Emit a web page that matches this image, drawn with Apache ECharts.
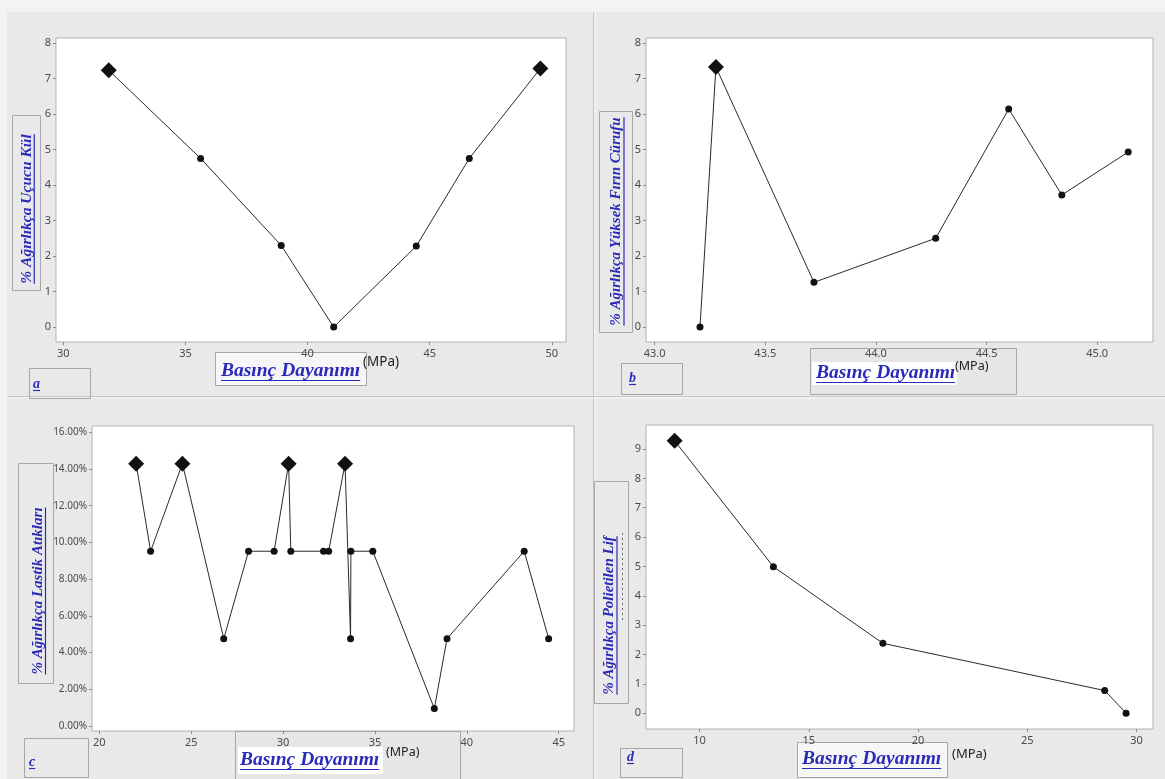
<!DOCTYPE html>
<html>
<head>
<meta charset="utf-8">
<script src="https://cdn.jsdelivr.net/npm/echarts@6/dist/echarts.min.js"></script>
<style>
  html, body { margin: 0; padding: 0; background: #e9e9e9; }
  #chart { width: 1165px; height: 779px; }
</style>
</head>
<body>
<div id="chart"></div>
<script>
// (a) Fly ash content vs compressive strength
const flyAshStrength = [31.86, 35.62, 38.92, 41.07, 44.45, 46.62, 49.53];
const flyAshPct      = [7.23, 4.75, 2.30, 0.00, 2.28, 4.75, 7.28];
const flyAshXTicks   = [30, 35, 40, 45, 50];
const flyAshYTicks   = [0, 1, 2, 3, 4, 5, 6, 7, 8];

// (b) Blast furnace slag content vs compressive strength
const slagStrength = [43.205, 43.277, 43.72, 44.27, 44.60, 44.84, 45.14];
const slagPct      = [0.00, 7.32, 1.26, 2.50, 6.14, 3.72, 4.93];
const slagXTicks   = [43.0, 43.5, 44.0, 44.5, 45.0];
const slagYTicks   = [0, 1, 2, 3, 4, 5, 6, 7, 8];

// (c) Waste tyre content vs compressive strength
const tyreStrength = [22.0, 22.79, 24.52, 26.77, 28.12, 29.51, 30.30, 30.42, 32.20,
                      32.48, 33.37, 33.67, 33.69, 34.88, 38.23, 38.92, 43.12, 44.45];
const tyrePct      = [14.29, 9.52, 14.29, 4.76, 9.52, 9.52, 14.29, 9.52, 9.52,
                      9.52, 14.29, 4.76, 9.52, 9.52, 0.95, 4.76, 9.52, 4.76];
const tyreXTicks   = [20, 25, 30, 35, 40, 45];
const tyreYTicks   = [0, 2, 4, 6, 8, 10, 12, 14, 16];

// (d) Polyethylene fibre content vs compressive strength
const fibreStrength = [8.86, 13.38, 18.39, 28.54, 29.52];
const fibrePct      = [9.28, 4.99, 2.38, 0.77, 0.00];
const fibreXTicks   = [10, 15, 20, 25, 30];
const fibreYTicks   = [0, 1, 2, 3, 4, 5, 6, 7, 8, 9];

const yTitles = [
  '% Ağırlıkça Uçucu Kül',
  '% Ağırlıkça Yüksek Fırın Cürufu',
  '% Ağırlıkça Lastik Atıkları',
  '% Ağırlıkça Polietilen Lif'
];
const xTitle = 'Basınç Dayanımı';
const unit = '(MPa)';
const panelLetters = ['a', 'b', 'c', 'd'];

const BLUE = '#2a2ab8';
const SERIF = '"Liberation Serif", "DejaVu Serif", serif';
const SANS = '"Noto Sans", "Open Sans", sans-serif';

const measureCtx = document.createElement('canvas').getContext('2d');
function textWidth(str, size) {
  measureCtx.font = 'italic bold ' + size + 'px ' + SERIF;
  return measureCtx.measureText(str).width;
}

// ---- plot frames ----
const grids = [
  { left: 56,  top: 38,  width: 510, height: 304 },
  { left: 646, top: 38,  width: 507, height: 304 },
  { left: 92,  top: 426, width: 482, height: 305 },
  { left: 646, top: 425, width: 507, height: 304 }
].map(g => Object.assign(g, {
  show: true, backgroundColor: '#ffffff', borderColor: '#b2b2b2', borderWidth: 1,
  containLabel: false, outerBoundsMode: 'none'
}));

function xAxisOf(i, min, max, ticks, fmt) {
  return {
    type: 'value', gridIndex: i, min: min, max: max, z: 5, position: 'bottom',
    axisLine: { show: false, onZero: false }, splitLine: { show: false },
    axisTick: { show: true, customValues: ticks, length: 3, lineStyle: { color: '#8a8a8a' } },
    axisLabel: { customValues: ticks, color: '#4a4a4a', fontSize: 11, fontFamily: SANS, margin: 6,
                 formatter: fmt || (v => String(v)) }
  };
}
function yAxisOf(i, min, max, ticks, fmt, size) {
  return {
    type: 'value', gridIndex: i, min: min, max: max, z: 5, position: 'left',
    axisLine: { show: false, onZero: false }, splitLine: { show: false },
    axisTick: { show: true, customValues: ticks, length: 3, lineStyle: { color: '#8a8a8a' } },
    axisLabel: { customValues: ticks, color: '#4a4a4a', fontSize: size || 11, fontFamily: SANS, margin: 5,
                 formatter: fmt || (v => String(v)) }
  };
}

const xAxes = [
  xAxisOf(0, 29.70, 50.58, flyAshXTicks),
  xAxisOf(1, 42.961, 45.252, slagXTicks, v => v.toFixed(1)),
  xAxisOf(2, 19.60, 45.83, tyreXTicks),
  xAxisOf(3, 7.55, 30.75, fibreXTicks)
];
const yAxes = [
  yAxisOf(0, -0.42, 8.14, flyAshYTicks),
  yAxisOf(1, -0.42, 8.14, slagYTicks),
  yAxisOf(2, -0.27, 16.34, tyreYTicks, v => v.toFixed(2) + '%', 10),
  yAxisOf(3, -0.54, 9.82, fibreYTicks)
];

// peak values are drawn as large diamonds, the rest as small dots
function points(xs, ys) {
  const peak = Math.max.apply(null, ys);
  return xs.map((x, i) => {
    const isPeak = Math.abs(ys[i] - peak) < 0.1;
    return { value: [x, ys[i]], symbol: isPeak ? 'diamond' : 'circle', symbolSize: isPeak ? 16 : 7 };
  });
}
const seriesData = [
  points(flyAshStrength, flyAshPct),
  points(slagStrength, slagPct),
  points(tyreStrength, tyrePct),
  points(fibreStrength, fibrePct)
];
const series = seriesData.map((d, i) => ({
  type: 'line', xAxisIndex: i, yAxisIndex: i, data: d, z: 3,
  lineStyle: { color: '#2a2a2a', width: 1 },
  itemStyle: { color: '#111111', borderWidth: 0 },
  showSymbol: true, animation: false, silent: true
}));

// ---- annotation boxes and titles ----
const g = [];
function rect(x, y, w, h, fill, stroke) {
  g.push({ type: 'rect', z: 1, shape: { x: x + 0.5, y: y + 0.5, width: w, height: h },
           style: { fill: fill || 'none', stroke: stroke || '#a6a6a6', lineWidth: 1 } });
}
function line(x1, y1, x2, y2, color, w, dash) {
  g.push({ type: 'line', z: 1, shape: { x1, y1, x2, y2 },
           style: { stroke: color, lineWidth: w || 1, lineDash: dash || null } });
}
function underlinedText(str, left, cy, size) {
  const w = textWidth(str, size);
  g.push({ type: 'text', z: 4, x: left, y: cy,
           style: { text: str, fill: BLUE, fontSize: size, fontStyle: 'italic', fontWeight: 'bold',
                    fontFamily: SERIF, textAlign: 'left', textVerticalAlign: 'middle' } });
  const uy = Math.round(cy + size * 0.45) + 0.5;
  line(left, uy, left + w, uy, BLUE, 1.2);
}
function verticalTitle(str, cx, cy, size) {
  const w = textWidth(str, size);
  g.push({ type: 'group', z: 4, x: cx, y: cy, rotation: Math.PI / 2, children: [
    { type: 'text', z: 4, x: 0, y: 0,
      style: { text: str, fill: BLUE, fontSize: size, fontStyle: 'italic', fontWeight: 'bold',
               fontFamily: SERIF, textAlign: 'center', textVerticalAlign: 'middle' } },
    { type: 'line', z: 4, shape: { x1: -w / 2, y1: size * 0.5, x2: w / 2, y2: size * 0.5 },
      style: { stroke: BLUE, lineWidth: 1.2 } }
  ] });
}
function unitText(left, cy, size) {
  g.push({ type: 'text', z: 4, x: left, y: cy,
           style: { text: unit, fill: '#222', fontSize: size, fontFamily: SANS,
                    textAlign: 'left', textVerticalAlign: 'middle' } });
}

// page frame and panel separators
g.push({ type: 'rect', z: 0, shape: { x: 0, y: 0, width: 1165, height: 12 }, style: { fill: '#f3f3f3' } });
g.push({ type: 'rect', z: 0, shape: { x: 0, y: 0, width: 7, height: 779 }, style: { fill: '#f3f3f3' } });
line(593.5, 12, 593.5, 779, '#c2c2c2', 1);
line(595, 12, 595, 779, '#f8f8f8', 1);
line(7, 396.5, 1165, 396.5, '#c6c6c6', 1);
line(7, 398, 1165, 398, '#f8f8f8', 1);

// y-axis title boxes
rect(12, 115, 28, 175);
rect(599, 111, 33, 221);
rect(18, 463, 35, 220);
rect(594, 481, 34, 222);
verticalTitle(yTitles[0], 26.5, 209, 15.5);
verticalTitle(yTitles[1], 616.5, 221.5, 15);
verticalTitle(yTitles[2], 38, 591, 15);
verticalTitle(yTitles[3], 609.5, 615.5, 15);
line(622.5, 533, 622.5, 622, '#6a6a6a', 1, [2, 3]);

// x-axis title boxes
rect(215, 352, 151, 33, '#f6f6f9');
underlinedText(xTitle, 221, 371, 19.5);
unitText(363, 362, 13.5);

rect(810, 348, 206, 46, '#e6e6e6');
g.push({ type: 'rect', z: 1, shape: { x: 812, y: 362, width: 145, height: 23 }, style: { fill: '#ffffff' } });
underlinedText(xTitle, 816, 373, 19.5);
unitText(955, 366, 12.5);

rect(235, 731, 225, 60, '#e6e6e6');
g.push({ type: 'rect', z: 1, shape: { x: 238, y: 747, width: 145, height: 27 }, style: { fill: '#ffffff' } });
underlinedText(xTitle, 240, 760, 19.5);
unitText(386, 752, 12.5);

rect(797, 742, 150, 35, '#f6f6f6');
underlinedText(xTitle, 802, 759, 19.5);
unitText(952, 754, 13);

// panel letters
rect(29, 368, 61, 30);
rect(621, 363, 61, 31);
rect(24, 738, 64, 39);
rect(620, 748, 62, 29);
underlinedText(panelLetters[0], 33, 384, 14);
underlinedText(panelLetters[1], 629, 378, 14);
underlinedText(panelLetters[2], 29, 762, 14);
underlinedText(panelLetters[3], 627, 757, 14);

const chart = echarts.init(document.getElementById('chart'), null, { renderer: 'canvas' });
chart.setOption({
  backgroundColor: '#e9e9e9',
  animation: false,
  grid: grids,
  xAxis: xAxes,
  yAxis: yAxes,
  series: series,
  graphic: g
});
</script>
</body>
</html>
